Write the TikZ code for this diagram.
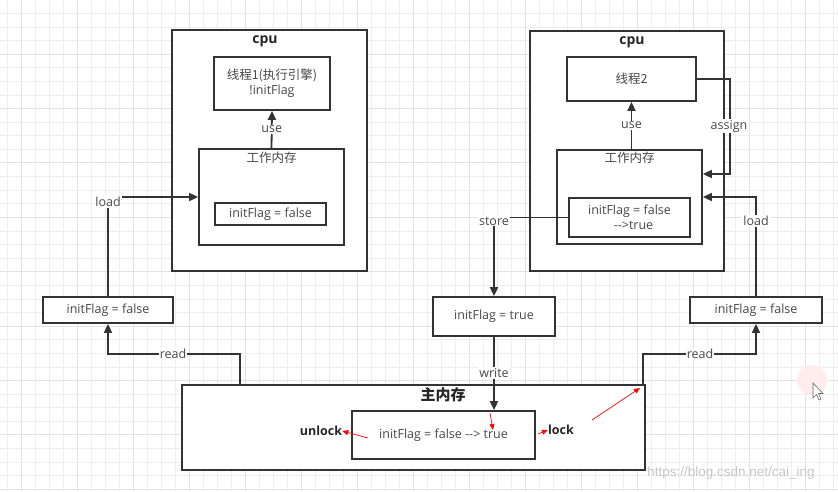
\documentclass[tikz,border=0pt]{standalone}
\usepackage{fontspec}
\setmainfont{Open Sans}
\newfontfamily\cjk{Noto Sans CJK SC}
\newfontfamily\wmfont{Liberation Sans}
\usetikzlibrary{arrows.meta,calc}
\definecolor{lc}{HTML}{333333}
\definecolor{tc}{HTML}{484848}
\definecolor{gmin}{HTML}{EEEEEE}
\definecolor{gmaj}{HTML}{E2E2E2}
\tikzset{
  box/.style={draw=lc,line width=1.8pt,fill=white,inner sep=0pt,align=center,
    text=tc,font=\fontsize{12.5}{15}\selectfont},
  lbl/.style={fill=white,inner sep=1pt,text=tc,font=\fontsize{12.5}{14}\selectfont},
  ttl/.style={inner sep=0pt,text=tc,font=\cjk\fontsize{12.5}{14}\selectfont},
  bld/.style={inner sep=0pt,text=black!85,font=\bfseries\fontsize{14}{16}\selectfont},
  arr/.style={draw=lc,line width=1.8pt,-{Triangle[length=9pt,width=8pt]}},
  red/.style={draw=red,line width=0.7pt,-{Triangle[length=6pt,width=5pt]}}
}
\begin{document}
\begin{tikzpicture}[x=1pt,y=-1pt]
\useasboundingbox (0,0) rectangle (838,491);
\fill[white] (0,0) rectangle (838,491);
% grid
\foreach \k in {0,...,59} {
  \pgfmathsetmacro{\gx}{7.7+14*\k}
  \pgfmathtruncatemacro{\m}{mod(\k,4)}
  \ifnum\m=1 \draw[gmaj,line width=1pt] (\gx,0) -- (\gx,491);
  \else \draw[gmin,line width=0.8pt] (\gx,0) -- (\gx,491); \fi
}
\foreach \k in {0,...,36} {
  \pgfmathsetmacro{\gy}{13.3+13.6*\k}
  \pgfmathtruncatemacro{\m}{mod(\k,4)}
  \ifnum\m=3 \draw[gmaj,line width=1pt] (0,\gy) -- (838,\gy);
  \else \draw[gmin,line width=0.8pt] (0,\gy) -- (838,\gy); \fi
}
% cursor highlight
\fill[red!7] (812,380) circle (15);
\draw[black!60,fill=white,line width=0.6pt] (813,383) -- (813,398) -- (816.5,394.5) -- (819,400) -- (821,399) -- (818.5,393.5) -- (823,393.5) -- cycle;

% ---------- left cpu ----------
\node[box,minimum width=195,minimum height=241] (cpuL) at (269.5,150.5) {};
\node[bld] (cpuLt) at (265,41) {cpu};
\node[box,minimum width=116,minimum height=53] (t1) at (272,83.5) {{\cjk 线程1(执行引擎)}\\!initFlag};
\node[box,minimum width=145,minimum height=96] (wmL) at (271.5,197) {};
\node[ttl] (wmLt) at (271.5,157.5) {工作内存};
\node[box,minimum width=111,minimum height=22] (ivL) at (270.5,214) {initFlag = false};
\draw[arr] (wmL.north) -- (t1.south) node[lbl,pos=0.5] (useL) {use};

% left transit box
\node[box,minimum width=130,minimum height=26] (boxL) at (108,310) {initFlag = false};
\draw[arr] (boxL.north) |- (wmL.west);
\node[lbl] (loadL) at (108,202) {load};

% ---------- right cpu ----------
\node[box,minimum width=194,minimum height=240] (cpuR) at (627,151) {};
\node[bld] (cpuRt) at (632,42) {cpu};
\node[box,minimum width=129,minimum height=44] (t2) at (631.5,79) {{\cjk 线程2}};
\node[box,minimum width=145,minimum height=94] (wmR) at (629.5,197) {};
\node[ttl] (wmRt) at (629.5,157.5) {工作内存};
\node[box,minimum width=121,minimum height=39] (ivR) at (629.5,217.5) {initFlag = false\\\hspace*{8pt}-{}->true};
\draw[arr] (wmR.north -| t2.south) -- (t2.south) node[lbl,pos=0.5] (useR) {use};
\draw[arr] (t2.east) -- ++(33,0) |- ([yshift=23pt]wmR.east);
\node[lbl] (assign) at (729,126) {assign};

% right transit box
\node[box,minimum width=132,minimum height=26] (boxR) at (756,310) {initFlag = false};
\draw[arr] (boxR.north) |- (wmR.east);
\node[lbl] (loadR) at (756,221) {load};

% middle transit box
\node[box,minimum width=122,minimum height=39] (boxT) at (494,316.5) {initFlag = true};
\draw[arr] (ivR.west) -| (boxT.north);
\node[lbl] (store) at (494,221) {store};

% ---------- main memory ----------
\node[box,minimum width=463,minimum height=85] (main) at (413.5,427.5) {};
\node[bld,font=\cjk\bfseries\fontsize{15}{17}\selectfont] (maint) at (443,395) {主内存};
\node[box,minimum width=183,minimum height=48] (inner) at (443.5,435) {initFlag = false -{}-> true};

\draw[arr] (boxT.south) -- (inner.north -| boxT.south);
\node[lbl] (write) at (494,373) {write};

\coordinate (rL) at (240,385);
\draw[arr] (rL) -- ++(0,-31) -| (boxL.south);
\node[lbl] (readL) at (173,354) {read};

\coordinate (rR) at (643,385);
\draw[arr] (rR) -- ++(0,-31) -| (boxR.south);
\node[lbl] (readR) at (700,354) {read};

% lock / unlock annotations
\node[bld,font=\bfseries\fontsize{12.5}{15}\selectfont] (unlock) at (321,431) {unlock};
\node[bld,font=\bfseries\fontsize{12.5}{15}\selectfont] (lock) at (561,430) {lock};
\coordinate (u1) at (368,438);
\draw[red] (u1) -- (unlock.east);
\coordinate (d1) at (490,413);
\coordinate (d2) at (493,430);
\draw[red] (d1) -- (d2);
\coordinate (l1) at (538,434);
\draw[red] (l1) -- (lock.west);
\coordinate (g1) at (592,420);
\coordinate (g2) at (640,388);
\draw[red] (g1) -- (g2);

% watermark
\node[inner sep=0pt,text=gray!45,font=\wmfont\fontsize{13.5}{15}\selectfont] (wm) at (731,473) {https://blog.csdn.net/cai\_ing};
\end{tikzpicture}
\end{document}
